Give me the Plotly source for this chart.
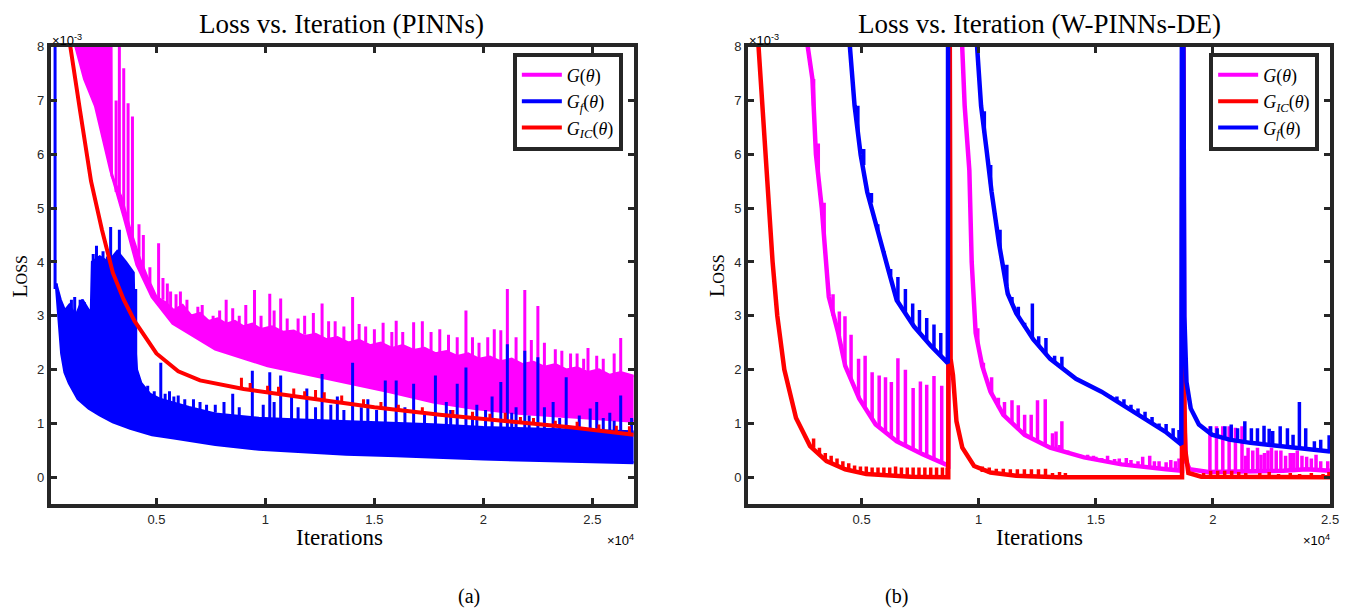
import plotly.graph_objects as go

MAG = "#ff00ff"
BLU = "#0000ff"
RED = "#ff0000"
INK = "#262626"

# ---------------- panel (a): PINNs  (x in iterations, y in units of 1e-3) ----------------
# G(theta): band between lower and upper envelope + spikes
pa_g_lo_x = [1300, 1700, 2200, 2900, 3500, 4100, 4800, 5750, 7700, 10100,
             12900, 15700, 17700, 19600, 21600, 23600, 25600, 26900]
pa_g_lo_y = [8.0, 7.4, 6.9, 5.7, 4.85, 3.95, 3.35, 2.86, 2.38, 2.07,
             1.83, 1.59, 1.40, 1.28, 1.19, 1.13, 1.07, 1.04]
pa_g_hi_x = [1300, 2900, 2950, 3400, 3800, 4200, 4600, 5000, 5400, 5800,
             6200, 6600, 7000, 7400, 7800, 8200, 8600, 9000, 9400, 9800,
             10300, 10800, 11300, 11800, 12300, 12800, 13300, 13800, 14300, 14800,
             15300, 15800, 16300, 16800, 17300, 17800, 18300, 18800, 19300, 19800,
             20300, 20800, 21300, 21800, 22300, 22800, 23300, 23800, 24300, 24800,
             25300, 25800, 26300, 26900]
pa_g_hi_y = [12, 12, 5.6, 5.2, 4.6, 4.1, 3.7, 3.35, 3.25, 3.1,
             3.2, 3.0, 3.05, 2.9, 2.95, 2.85, 2.9, 2.8, 2.85, 2.75,
             2.8, 2.7, 2.72, 2.62, 2.66, 2.56, 2.6, 2.5, 2.55, 2.45,
             2.5, 2.4, 2.45, 2.36, 2.4, 2.3, 2.34, 2.25, 2.3, 2.2,
             2.24, 2.15, 2.2, 2.1, 2.14, 2.05, 2.1, 2.0, 2.04, 1.95,
             2.0, 1.9, 1.95, 1.88]
pa_g_spk_x = [3150, 3300, 3500, 3700, 3900, 4200, 4400, 5100, 5500, 5650,
              6100, 6900, 7600, 8500, 9500, 10200, 10700, 11500, 12600, 13200,
              14000, 14600, 15400, 16000, 16800, 17600, 18400, 19200, 19800, 20800,
              21100, 21900, 22500, 23300, 24000, 24600, 25200, 25800, 26300,
              4700, 5300, 5900, 6400, 7100, 7900, 8200, 8800, 9100, 9800,
              10400, 11000, 11800, 12200, 12900, 13600, 14300, 15000, 15800, 16300,
              17200, 18000, 18800, 19500, 20200, 20500, 21500, 22200, 22800, 23600,
              24300, 24800, 25500, 26000, 26700]
pa_g_spk_hi = [7.0, 9.0, 7.6, 6.95, 6.7, 4.7, 4.5, 4.35, 3.6, 3.45,
               3.45, 3.17, 3.0, 3.14, 3.48, 3.41, 3.32, 2.95, 3.23, 2.9,
               3.35, 2.8, 2.87, 2.91, 2.88, 2.7, 2.65, 3.1, 2.5, 2.73,
               3.5, 3.48, 3.18, 2.38, 2.3, 2.2, 2.26, 1.92, 2.59,
               3.9, 3.7, 3.4, 3.3, 3.2, 3.1, 3.3, 3.0, 3.2, 3.0,
               3.1, 2.95, 3.0, 3.05, 2.9, 2.8, 2.85, 2.75, 2.7, 2.7,
               2.9, 2.75, 2.6, 2.6, 2.6, 2.75, 2.6, 2.55, 2.5, 2.35,
               2.3, 2.4, 2.2, 2.3, 1.9]
pa_g_spk_lo = [5.3, 5.2, 4.9, 4.6, 4.3, 4.0, 3.8, 3.3, 3.2, 3.15,
               3.1, 3.0, 2.9, 2.85, 2.8, 2.75, 2.7, 2.65, 2.6, 2.55,
               2.5, 2.5, 2.45, 2.4, 2.35, 2.3, 2.3, 2.25, 2.2, 2.15,
               2.15, 2.1, 2.05, 2.05, 2.0, 2.0, 1.95, 1.9, 1.9,
               3.6, 3.3, 3.1, 3.1, 3.0, 2.9, 2.85, 2.8, 2.8, 2.75,
               2.75, 2.7, 2.65, 2.6, 2.55, 2.55, 2.5, 2.45, 2.4, 2.4,
               2.35, 2.3, 2.25, 2.25, 2.2, 2.15, 2.15, 2.1, 2.05, 2.0,
               2.0, 1.95, 1.9, 1.9, 1.85]

# G_f(theta)
pa_f_lo_x = [400, 500, 650, 800, 1000, 1400, 1900, 2400, 3000, 3800,
             4800, 5800, 7700, 9700, 12000, 13700, 16000, 17700, 20000, 21600,
             24000, 26900]
pa_f_lo_y = [3.6, 3.0, 2.3, 1.95, 1.75, 1.46, 1.28, 1.16, 1.03, 0.91,
             0.79, 0.73, 0.61, 0.52, 0.47, 0.43, 0.40, 0.37, 0.34, 0.32,
             0.30, 0.27]
pa_f_hi_x = [400, 600, 800, 1000, 1300, 1600, 1900, 2000, 2050, 2400,
             2800, 3200, 3600, 3950, 4000, 4100, 4300, 4700, 5200, 5800,
             6500, 7700, 9000, 9700, 11000, 13700, 16000, 17700, 20000, 21600,
             24000, 26900]
pa_f_hi_y = [3.6, 3.3, 3.1, 3.2, 3.0, 3.3, 3.1, 3.1, 4.0, 4.1,
             4.0, 4.2, 4.0, 3.8, 2.6, 2.0, 1.75, 1.55, 1.45, 1.38,
             1.3, 1.18, 1.13, 1.10, 1.08, 1.04, 1.0, 0.98, 0.93, 0.91,
             0.88, 0.85]
pa_f_spk_x = [350, 1100, 1250, 1500, 1700, 2100, 2250, 2400, 2550, 2750,
              2900, 3100, 3300, 3450, 3600, 3850, 4050, 5200, 5600, 6000,
              6700, 7300, 8500, 9400, 10200, 10700, 11200, 11900, 12600, 13300,
              14000, 14700, 15500, 16000, 16800, 17800, 18300, 18800, 19200, 19700,
              20400, 20800, 21100, 21500, 21900, 22500, 23200, 23800, 24900, 25200,
              25800, 26300, 26800,
              4600, 4900, 5400, 5800, 6300, 7000, 7700, 8100, 8800, 9900,
              10400, 11500, 12300, 13000, 13600, 14400, 15100, 16400, 17300, 18500,
              19500, 20100, 21300, 22100, 22800, 23500, 24400, 25500, 26000]
pa_f_spk_hi = [12, 3.3, 3.35, 3.3, 3.25, 4.15, 4.3, 4.1, 4.2, 4.1,
               4.65, 3.4, 4.6, 3.7, 3.9, 3.8, 3.5, 2.13, 1.6, 1.52,
               1.45, 1.35, 1.55, 1.98, 1.95, 1.89, 1.5, 1.65, 1.92, 1.5,
               2.13, 1.45, 1.8, 1.8, 1.74, 1.89, 1.4, 1.74, 2.04, 1.35,
               1.5, 1.77, 2.47, 1.3, 2.35, 2.23, 1.4, 1.86, 1.28, 1.40,
               1.2, 1.52, 1.1,
               1.7, 1.6, 1.55, 1.5, 1.45, 1.4, 1.35, 1.4, 1.3, 1.35,
               1.4, 1.3, 1.3, 1.35, 1.25, 1.3, 1.25, 1.3, 1.2, 1.25,
               1.2, 1.25, 1.2, 1.15, 1.3, 1.1, 1.15, 1.1, 1.05]
pa_f_spk_lo = [3.5, 3.0, 3.0, 3.0, 3.0, 3.0, 3.0, 3.0, 3.0, 3.0,
               3.0, 3.0, 3.0, 3.0, 3.0, 3.0, 2.0, 1.4, 1.3, 1.3,
               1.25, 1.2, 1.1, 1.1, 1.1, 1.05, 1.05, 1.05, 1.0, 1.0,
               1.0, 1.0, 0.95, 0.95, 0.95, 0.95, 0.9, 0.9, 0.9, 0.9,
               0.9, 0.9, 0.9, 0.85, 0.85, 0.85, 0.85, 0.85, 0.85, 0.85,
               0.8, 0.8, 0.8,
               1.5, 1.45, 1.4, 1.35, 1.3, 1.25, 1.2, 1.15, 1.12, 1.1,
               1.1, 1.08, 1.06, 1.05, 1.04, 1.02, 1.0, 0.99, 0.98, 0.95,
               0.94, 0.93, 0.92, 0.91, 0.9, 0.89, 0.88, 0.87, 0.86]

# G_IC(theta)
pa_ic_x = [800, 1050, 1500, 2000, 2500, 3000, 3500, 4000, 5000, 6000,
           7000, 8700, 9000, 12000, 15000, 18000, 21600, 24000, 26900]
pa_ic_y = [11, 8.0, 6.8, 5.5, 4.6, 3.8, 3.3, 2.9, 2.3, 1.97,
           1.8, 1.66, 1.64, 1.47, 1.3, 1.16, 1.02, 0.93, 0.79]
pa_ic_spk_x = [8900, 9300, 10100, 10600, 11300, 11800, 12300, 12700, 13500, 14500,
               15300, 16100, 17200, 18600, 19500, 20300, 21000, 21700, 22300, 23300,
               24300, 25300, 26100, 26700]
pa_ic_spk_hi = [1.85, 1.75, 1.7, 1.68, 1.65, 1.6, 1.62, 1.58, 1.52, 1.45,
                1.4, 1.35, 1.3, 1.25, 1.22, 1.18, 1.2, 1.12, 1.1, 1.05,
                1.03, 0.98, 0.96, 0.95]
pa_ic_spk_lo = [1.64, 1.62, 1.57, 1.54, 1.51, 1.48, 1.46, 1.43, 1.39, 1.33,
                1.29, 1.25, 1.19, 1.13, 1.10, 1.07, 1.04, 1.02, 0.99, 0.95,
                0.91, 0.87, 0.83, 0.81]

# ---------------- panel (b): W-PINNs-DE ----------------
pb_g_x = [2600, 2700, 2900, 3050, 3300, 3500, 3600, 4000, 4300, 4900,
          5600, 6500, 7600, 8700, 8740, 9150, 9270, 9400, 9600, 9700,
          9870, 10150, 10500, 11050, 11960, 13050, 14500, 16100, 18000, 18680,
          18700, 18780, 18850, 19000, 19800, 21200, 22000, 23000, 24000, 25000]
pb_g_y = [9.0, 8.0, 7.4, 6.0, 5.0, 3.96, 3.35, 2.68, 2.07, 1.46,
          0.98, 0.67, 0.43, 0.22, 14, 9.5, 8.0, 6.9, 5.7, 4.0,
          2.68, 2.07, 1.59, 1.16, 0.79, 0.55, 0.37, 0.24, 0.15, 0.12,
          14, 1.0, 0.3, 0.15, 0.10, 0.1, 0.12, 0.12, 0.15, 0.12]
pb_g_spk_x = [2950, 3150, 3400, 3780, 4050, 4290, 4550, 4870, 5150, 5450,
              5750, 6020, 6270, 6550, 6870, 7200, 7510, 7780, 8090, 8420,
              9960, 10200, 10550, 10840, 11100, 11420, 11690, 11960, 12240, 12510,
              12840, 13150, 13300, 13450, 13550, 14000, 14300, 15000, 15500, 16000,
              16500, 17000, 17500, 18000, 18400, 19870, 20150, 20420, 20690, 20960,
              21240, 21500, 21700, 21900, 22200, 22500, 22700, 22900, 23300, 23600,
              23800, 24200, 24600, 24900,
              13800, 14650, 14900, 15250, 15800, 16300, 16800, 17300, 17700, 18200,
              18550, 21400, 22050, 22350, 23100, 23450, 24000, 24400]
pb_g_spk_hi = [7.4, 6.2, 5.1, 3.4, 3.08, 2.99, 2.65, 2.2, 2.26, 1.95,
               1.89, 1.86, 1.77, 2.21, 2.0, 1.66, 1.78, 1.72, 1.88, 1.70,
               2.77, 2.13, 1.86, 1.48, 1.40, 1.43, 1.34, 1.16, 1.16, 1.43,
               1.45, 0.82, 0.85, 0.6, 1.04, 0.45, 0.43, 0.38, 0.4, 0.35,
               0.32, 0.38, 0.3, 0.28, 0.3, 0.95, 0.95, 0.95, 0.95, 0.92,
               0.95, 0.55, 0.5, 0.55, 0.45, 0.55, 0.5, 0.5, 0.45, 0.5,
               0.4, 0.35, 0.3, 0.3,
               0.5, 0.42, 0.4, 0.36, 0.34, 0.36, 0.3, 0.4, 0.3, 0.32,
               0.35, 0.4, 0.42, 0.5, 0.4, 0.45, 0.38, 0.42]
pb_g_spk_lo = [6.9, 5.6, 4.5, 3.0, 2.6, 2.1, 1.8, 1.5, 1.3, 1.1,
               0.95, 0.85, 0.75, 0.66, 0.58, 0.5, 0.45, 0.4, 0.33, 0.27,
               2.5, 2.0, 1.53, 1.3, 1.12, 1.0, 0.9, 0.79, 0.72, 0.66,
               0.6, 0.53, 0.5, 0.48, 0.47, 0.42, 0.39, 0.32, 0.28, 0.25,
               0.22, 0.19, 0.17, 0.15, 0.13, 0.1, 0.1, 0.1, 0.1, 0.1,
               0.1, 0.11, 0.11, 0.12, 0.12, 0.12, 0.12, 0.12, 0.13, 0.14,
               0.14, 0.15, 0.14, 0.12,
               0.45, 0.36, 0.34, 0.31, 0.27, 0.24, 0.21, 0.19, 0.17, 0.15,
               0.13, 0.11, 0.12, 0.12, 0.12, 0.13, 0.14, 0.15]

pb_ic_x = [450, 600, 900, 1200, 1400, 1700, 2200, 2800, 3500, 4300,
           5200, 7100, 8700, 8730, 8800, 8900, 9050, 9300, 9800, 10500,
           11600, 13400, 18680, 18700, 18760, 18820, 18950, 19500, 25000]
pb_ic_y = [10, 8.0, 6.0, 4.0, 3.0, 2.0, 1.1, 0.58, 0.30, 0.15,
           0.06, 0.01, 0.0, 14, 2.2, 1.9, 1.04, 0.55, 0.21, 0.09,
           0.03, 0.0, 0.0, 14, 1.9, 0.5, 0.08, 0.01, 0.0]
pb_ic_spk_x = [2950, 3200, 3450, 3700, 3950, 4200, 4450, 4700, 4950, 5200,
               5450, 5700, 5950, 6200, 6450, 6700, 6950, 7200, 7450, 7700,
               7950, 8200, 8450, 8650,
               10150, 10450, 10750, 11050, 11350, 11650, 11950, 12250, 12550, 12850,
               13150, 13450, 13700,
               19600, 19900, 20200, 20500, 20800, 21100, 21400, 22000, 22400, 22800,
               23300, 23700, 24200, 24700, 24950]
pb_ic_spk_hi = [0.72, 0.55, 0.45, 0.4, 0.35, 0.3, 0.26, 0.22, 0.2, 0.2,
                0.18, 0.18, 0.18, 0.18, 0.2, 0.18, 0.18, 0.18, 0.18, 0.18,
                0.18, 0.18, 0.18, 0.18,
                0.2, 0.18, 0.16, 0.16, 0.15, 0.15, 0.15, 0.15, 0.15, 0.16,
                0.08, 0.1, 0.08,
                0.08, 0.12, 0.12, 0.12, 0.12, 0.1, 0.08, 0.08, 0.1, 0.06,
                0.08, 0.06, 0.08, 0.06, 0.1]
pb_ic_spk_lo = [0.55, 0.42, 0.32, 0.27, 0.22, 0.17, 0.13, 0.11, 0.08, 0.06,
                0.05, 0.04, 0.03, 0.02, 0.02, 0.01, 0.01, 0.01, 0.0, 0.0,
                0.0, 0.0, 0.0, 0.0,
                0.1, 0.07, 0.05, 0.04, 0.03, 0.02, 0.02, 0.01, 0.01, 0.01,
                0.0, 0.0, 0.0,
                0.0, 0.0, 0.0, 0.0, 0.0, 0.0, 0.0, 0.0, 0.0, 0.0,
                0.0, 0.0, 0.0, 0.0, 0.0]

pb_f_x = [4400, 4500, 4700, 4960, 5240, 5600, 6150, 6500, 7240, 7960,
          8680, 8700, 9800, 9930, 10100, 10330, 10550, 10870, 11150, 11240,
          11600, 12330, 13050, 14150, 15240, 16150, 17050, 17960, 18650, 18690,
          18780, 18870, 19050, 19400, 19960, 20700, 21600, 22500, 23400, 24300,
          25000]
pb_f_y = [9.5, 8.0, 6.9, 5.99, 5.3, 4.7, 3.84, 3.29, 2.8, 2.44,
          2.12, 14, 9.0, 8.0, 6.9, 6.1, 5.3, 4.33, 3.66, 3.41,
          3.05, 2.56, 2.2, 1.83, 1.59, 1.34, 1.10, 0.85, 0.61, 14,
          2.99, 1.77, 1.28, 0.98, 0.79, 0.70, 0.64, 0.60, 0.55, 0.52,
          0.48]
pb_f_spk_x = [4840, 5090, 5420, 5690, 5960, 6240, 6550, 6870, 7180, 7470,
              7780, 8090, 8380, 10240, 10510, 10910, 11200, 11420, 11690, 11960,
              12290, 12560, 12870, 13240, 13550, 13800, 14100, 14400, 14700, 15000,
              15300, 15600, 15900, 16200, 16500, 16800, 17100, 17400, 17700, 18000,
              18300, 18550, 19900, 20180, 20510, 20780, 21050, 21360, 21640, 21900,
              22180, 22400, 22550, 22870, 23180, 23420, 23690, 23960, 24330, 24600,
              24960]
pb_f_spk_hi = [6.9, 6.1, 5.28, 4.7, 4.2, 3.87, 3.72, 3.5, 3.23, 3.11,
               2.96, 2.84, 2.68, 6.8, 5.8, 4.6, 3.95, 3.35, 3.17, 2.87,
               3.23, 2.62, 2.59, 2.26, 2.24, 1.95, 1.85, 1.75, 1.7, 1.65,
               1.58, 1.52, 1.5, 1.45, 1.35, 1.28, 1.22, 1.12, 1.0, 0.99,
               0.91, 0.88, 0.95, 0.91, 0.95, 0.98, 0.91, 1.04, 0.91, 0.91,
               0.96, 0.9, 0.86, 0.95, 0.91, 0.79, 1.40, 0.91, 0.67, 0.70,
               0.78]
pb_f_spk_lo = [6.4, 5.8, 5.1, 4.6, 4.15, 3.75, 3.25, 3.05, 2.85, 2.7,
               2.55, 2.38, 2.25, 6.4, 5.45, 4.25, 3.55, 3.24, 2.98, 2.8,
               2.58, 2.45, 2.29, 2.14, 2.03, 1.95, 1.84, 1.78, 1.71, 1.64,
               1.57, 1.49, 1.42, 1.33, 1.25, 1.17, 1.09, 1.0, 0.92, 0.84,
               0.73, 0.65, 0.8, 0.77, 0.73, 0.71, 0.68, 0.66, 0.64, 0.63,
               0.62, 0.6, 0.6, 0.58, 0.56, 0.55, 0.54, 0.53, 0.52, 0.5,
               0.48]

x_tick_vals = [5000, 10000, 15000, 20000, 25000]
x_tick_text = ["0.5", "1", "1.5", "2", "2.5"]
y_tick_vals = [0, 1, 2, 3, 4, 5, 6, 7, 8]

# the page body keeps its default 8px margin, so the figure is drawn 8px in and 8px smaller
OFF = 8
W, H = 1350 - OFF, 608 - OFF


def px(x):
    return (x - OFF) / W


def py(y):
    return 1 - (y - OFF) / H


def spikes(xs, lo, hi):
    sx, sy = [], []
    for x, a, b in zip(xs, lo, hi):
        sx += [x, x, None]
        sy += [a, b, None]
    return sx, sy


fig = go.Figure()


def band(lx, ly, hx, hy, color, xa, ya):
    fig.add_trace(go.Scatter(x=lx, y=ly, mode="lines", line=dict(color=color, width=3),
                             xaxis=xa, yaxis=ya, showlegend=False, hoverinfo="skip"))
    fig.add_trace(go.Scatter(x=hx, y=hy, mode="lines", fill="tonexty", fillcolor=color,
                             line=dict(color=color, width=2.5), xaxis=xa, yaxis=ya,
                             showlegend=False, hoverinfo="skip"))


def spike_trace(xs, lo, hi, color, width, xa, ya):
    sx, sy = spikes(xs, lo, hi)
    fig.add_trace(go.Scatter(x=sx, y=sy, mode="lines", line=dict(color=color, width=width),
                             xaxis=xa, yaxis=ya, showlegend=False, hoverinfo="skip"))


def line_trace(xs, ys, color, width, xa, ya):
    fig.add_trace(go.Scatter(x=xs, y=ys, mode="lines", line=dict(color=color, width=width),
                             xaxis=xa, yaxis=ya, showlegend=False, hoverinfo="skip"))


# panel (a)
band(pa_g_lo_x, pa_g_lo_y, pa_g_hi_x, pa_g_hi_y, MAG, "x", "y")
spike_trace(pa_g_spk_x, pa_g_spk_lo, pa_g_spk_hi, MAG, 3, "x", "y")
band(pa_f_lo_x, pa_f_lo_y, pa_f_hi_x, pa_f_hi_y, BLU, "x", "y")
spike_trace(pa_f_spk_x, pa_f_spk_lo, pa_f_spk_hi, BLU, 3, "x", "y")
line_trace(pa_ic_x, pa_ic_y, RED, 4, "x", "y")
spike_trace(pa_ic_spk_x, pa_ic_spk_lo, pa_ic_spk_hi, RED, 3, "x", "y")

# panel (b)
line_trace(pb_g_x, pb_g_y, MAG, 4.5, "x2", "y2")
spike_trace(pb_g_spk_x, pb_g_spk_lo, pb_g_spk_hi, MAG, 3.5, "x2", "y2")
line_trace(pb_ic_x, pb_ic_y, RED, 4.5, "x2", "y2")
spike_trace(pb_ic_spk_x, pb_ic_spk_lo, pb_ic_spk_hi, RED, 3.5, "x2", "y2")
line_trace(pb_f_x, pb_f_y, BLU, 4.5, "x2", "y2")
spike_trace(pb_f_spk_x, pb_f_spk_lo, pb_f_spk_hi, BLU, 3.5, "x2", "y2")

# legend entries
G_LBL = "<i>G</i>(<i>θ</i>)"
GF_LBL = "<i>G<sub>f</sub></i>(<i>θ</i>)"
GIC_LBL = "<i>G<sub>IC</sub></i>(<i>θ</i>)"
for name, col in [(G_LBL, MAG), (GF_LBL, BLU), (GIC_LBL, RED)]:
    fig.add_trace(go.Scatter(x=[None], y=[None], mode="lines", name=name,
                             line=dict(color=col, width=4), xaxis="x", yaxis="y", legend="legend"))
for name, col in [(G_LBL, MAG), (GIC_LBL, RED), (GF_LBL, BLU)]:
    fig.add_trace(go.Scatter(x=[None], y=[None], mode="lines", name=name,
                             line=dict(color=col, width=4), xaxis="x2", yaxis="y2", legend="legend2"))

ydom = [py(503), py(40)]
axis_common = dict(showline=True, linewidth=4, linecolor=INK, mirror="ticks",
                   ticks="inside", ticklen=6, tickwidth=3, tickcolor=INK,
                   showgrid=False, zeroline=False,
                   tickfont=dict(family="Liberation Sans, Arial", size=13, color=INK))

legend_common = dict(yanchor="top", xanchor="right", y=py(46), traceorder="normal",
                     bgcolor="white", bordercolor=INK, borderwidth=4,
                     font=dict(family="Liberation Serif, serif", size=18, color="black"),
                     tracegroupgap=0, itemwidth=40)

fig.update_layout(
    width=W, height=H,
    margin=dict(l=0, r=0, t=0, b=0),
    paper_bgcolor="white", plot_bgcolor="white",
    xaxis=dict(domain=[px(51), px(638)], range=[150, 26900], tickvals=x_tick_vals,
               ticktext=x_tick_text, anchor="y", **axis_common),
    yaxis=dict(domain=ydom, range=[-0.5, 8], tickvals=y_tick_vals, anchor="x", **axis_common),
    xaxis2=dict(domain=[px(753), px(1339)], range=[150, 25000], tickvals=x_tick_vals,
                ticktext=x_tick_text, anchor="y2", **axis_common),
    yaxis2=dict(domain=ydom, range=[-0.5, 8], tickvals=y_tick_vals, anchor="x2", **axis_common),
    legend=dict(x=px(627), **legend_common),
    legend2=dict(x=px(1328), **legend_common),
    showlegend=True,
)

serif = "Liberation Serif, serif"
sans = "Liberation Sans, Arial"


def note(text, x, y, size, family=serif, xanchor="center", yanchor="middle", angle=0):
    fig.add_annotation(text=text, x=px(x), y=py(y), xref="paper", yref="paper",
                       showarrow=False, xanchor=xanchor, yanchor=yanchor, textangle=angle,
                       font=dict(family=family, size=size, color="black"))


note("Loss vs. Iteration (PINNs)", 344, 17, 27)
note("Loss vs. Iteration (W-PINNs-DE)", 1046, 17, 27)
note("Iterations", 342, 537, 23)
note("Iterations", 1046, 537, 23)
note("L<span style='font-size:16px'>OSS</span>", 20, 272, 22, angle=-90)
note("L<span style='font-size:16px'>OSS</span>", 722, 272, 22, angle=-90)
note("×10<sup>4</sup>", 640, 539, 13, family=sans, xanchor="right")
note("×10<sup>4</sup>", 1341, 539, 13, family=sans, xanchor="right")
note("×10<sup>-3</sup>", 50, 33, 13, family=sans, xanchor="left")
note("×10<sup>-3</sup>", 752, 33, 13, family=sans, xanchor="left")
note("(a)", 472, 596, 20)
note("(b)", 902, 596, 20)

fig.write_html("out.html")
